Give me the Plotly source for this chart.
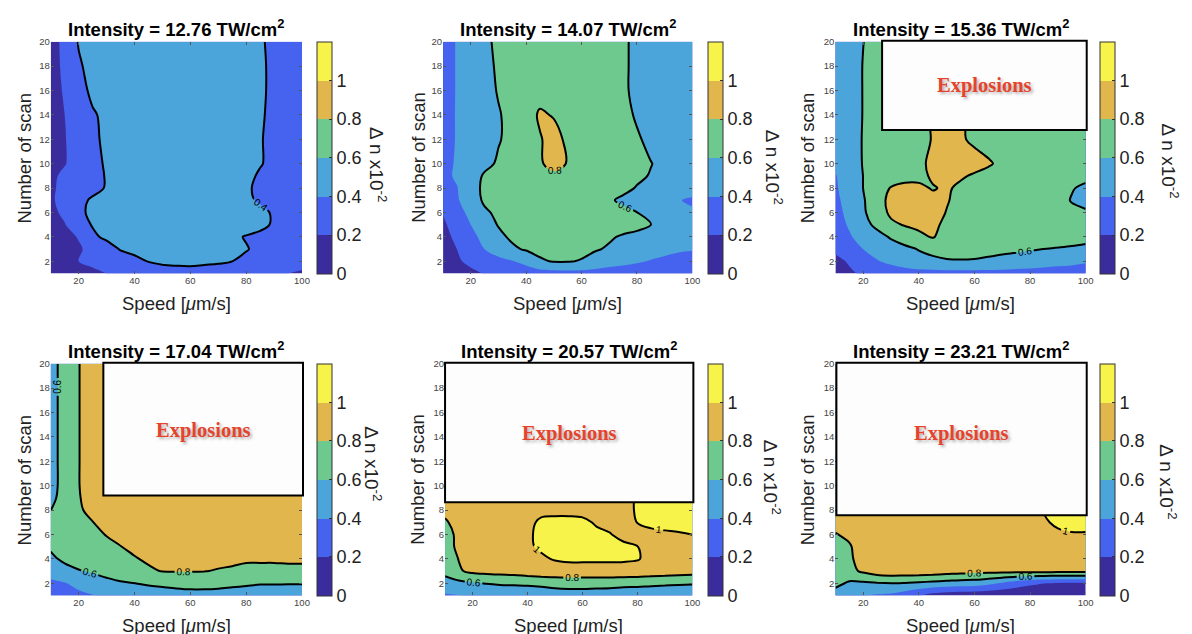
import plotly.graph_objects as go

# ---------------- data ----------------
speed = [10, 15, 20, 25, 30, 35, 40, 45, 50, 55, 60, 65, 70, 75, 80, 85, 90, 95, 100]
scans = [1, 2, 3, 4, 5, 6, 7, 8, 9, 10, 12, 14, 16, 18, 20]

intensities = ["12.76", "14.07", "15.36", "17.04", "20.57", "23.21"]

dn_1276 = [
    [0.05, 0.08, 0.12, 0.16, 0.20, 0.23, 0.26, 0.29, 0.32, 0.33, 0.34, 0.33, 0.32, 0.30, 0.27, 0.24, 0.22, 0.20, 0.18],
    [0.07, 0.12, 0.20, 0.24, 0.28, 0.32, 0.36, 0.405, 0.43, 0.44, 0.44, 0.43, 0.42, 0.40, 0.36, 0.32, 0.29, 0.27, 0.25],
    [0.08, 0.13, 0.18, 0.25, 0.33, 0.41, 0.44, 0.46, 0.46, 0.46, 0.46, 0.46, 0.46, 0.44, 0.41, 0.36, 0.33, 0.30, 0.28],
    [0.10, 0.15, 0.21, 0.37, 0.43, 0.46, 0.47, 0.47, 0.47, 0.47, 0.47, 0.47, 0.47, 0.43, 0.39, 0.36, 0.34, 0.32, 0.31],
    [0.12, 0.19, 0.33, 0.41, 0.45, 0.46, 0.47, 0.47, 0.47, 0.47, 0.47, 0.47, 0.47, 0.47, 0.47, 0.44, 0.38, 0.34, 0.32],
    [0.15, 0.24, 0.37, 0.43, 0.46, 0.47, 0.47, 0.47, 0.47, 0.47, 0.47, 0.47, 0.47, 0.47, 0.47, 0.44, 0.38, 0.34, 0.32],
    [0.17, 0.27, 0.36, 0.42, 0.45, 0.47, 0.47, 0.47, 0.47, 0.47, 0.47, 0.47, 0.47, 0.47, 0.43, 0.38, 0.35, 0.33, 0.32],
    [0.17, 0.25, 0.31, 0.36, 0.41, 0.45, 0.47, 0.47, 0.47, 0.47, 0.47, 0.47, 0.47, 0.47, 0.42, 0.37, 0.35, 0.33, 0.32],
    [0.16, 0.24, 0.30, 0.35, 0.41, 0.45, 0.47, 0.47, 0.47, 0.47, 0.47, 0.47, 0.47, 0.47, 0.44, 0.38, 0.35, 0.33, 0.32],
    [0.10, 0.19, 0.28, 0.35, 0.42, 0.45, 0.47, 0.47, 0.47, 0.47, 0.47, 0.47, 0.47, 0.47, 0.47, 0.41, 0.36, 0.33, 0.32],
    [0.10, 0.19, 0.29, 0.37, 0.43, 0.46, 0.47, 0.47, 0.47, 0.47, 0.47, 0.47, 0.47, 0.47, 0.47, 0.41, 0.36, 0.33, 0.32],
    [0.11, 0.20, 0.31, 0.38, 0.44, 0.46, 0.47, 0.47, 0.47, 0.47, 0.47, 0.47, 0.47, 0.47, 0.47, 0.42, 0.36, 0.33, 0.32],
    [0.12, 0.22, 0.33, 0.44, 0.46, 0.47, 0.47, 0.47, 0.47, 0.47, 0.47, 0.47, 0.47, 0.47, 0.47, 0.43, 0.36, 0.33, 0.32],
    [0.12, 0.24, 0.38, 0.45, 0.47, 0.47, 0.47, 0.47, 0.47, 0.47, 0.47, 0.47, 0.47, 0.47, 0.47, 0.43, 0.36, 0.33, 0.32],
    [0.12, 0.25, 0.41, 0.45, 0.47, 0.47, 0.47, 0.47, 0.47, 0.47, 0.47, 0.47, 0.47, 0.47, 0.47, 0.42, 0.36, 0.33, 0.32],
]

dn_1407 = [
    [0.06, 0.10, 0.15, 0.21, 0.25, 0.28, 0.30, 0.31, 0.32, 0.33, 0.33, 0.32, 0.31, 0.30, 0.29, 0.28, 0.28, 0.27, 0.27],
    [0.10, 0.17, 0.25, 0.30, 0.35, 0.39, 0.45, 0.58, 0.61, 0.61, 0.59, 0.53, 0.48, 0.45, 0.42, 0.39, 0.37, 0.35, 0.34],
    [0.12, 0.20, 0.30, 0.40, 0.48, 0.57, 0.62, 0.64, 0.65, 0.65, 0.64, 0.615, 0.58, 0.54, 0.50, 0.47, 0.44, 0.42, 0.41],
    [0.14, 0.24, 0.35, 0.45, 0.56, 0.63, 0.66, 0.67, 0.67, 0.67, 0.67, 0.65, 0.62, 0.58, 0.55, 0.52, 0.49, 0.47, 0.45],
    [0.17, 0.28, 0.40, 0.52, 0.61, 0.66, 0.69, 0.69, 0.69, 0.69, 0.69, 0.69, 0.69, 0.67, 0.65, 0.605, 0.53, 0.48, 0.45],
    [0.21, 0.33, 0.45, 0.57, 0.64, 0.69, 0.69, 0.69, 0.69, 0.69, 0.69, 0.68, 0.66, 0.64, 0.602, 0.55, 0.50, 0.45, 0.43],
    [0.33, 0.38, 0.50, 0.63, 0.66, 0.69, 0.69, 0.69, 0.69, 0.69, 0.69, 0.66, 0.62, 0.57, 0.52, 0.48, 0.45, 0.41, 0.37],
    [0.35, 0.39, 0.54, 0.63, 0.66, 0.68, 0.70, 0.70, 0.70, 0.70, 0.70, 0.69, 0.67, 0.64, 0.59, 0.55, 0.52, 0.50, 0.48],
    [0.34, 0.43, 0.52, 0.62, 0.65, 0.67, 0.70, 0.73, 0.76, 0.74, 0.72, 0.70, 0.69, 0.67, 0.63, 0.59, 0.56, 0.54, 0.53],
    [0.34, 0.42, 0.49, 0.56, 0.62, 0.66, 0.72, 0.78, 0.86, 0.79, 0.74, 0.71, 0.70, 0.68, 0.65, 0.605, 0.56, 0.54, 0.53],
    [0.34, 0.41, 0.47, 0.53, 0.59, 0.64, 0.72, 0.79, 0.85, 0.77, 0.73, 0.70, 0.69, 0.67, 0.62, 0.56, 0.53, 0.52, 0.51],
    [0.34, 0.41, 0.48, 0.53, 0.59, 0.64, 0.73, 0.82, 0.79, 0.74, 0.71, 0.69, 0.68, 0.65, 0.58, 0.54, 0.52, 0.50, 0.50],
    [0.33, 0.41, 0.49, 0.55, 0.61, 0.66, 0.69, 0.74, 0.70, 0.70, 0.70, 0.70, 0.70, 0.62, 0.57, 0.54, 0.52, 0.50, 0.50],
    [0.33, 0.41, 0.49, 0.56, 0.62, 0.66, 0.68, 0.68, 0.68, 0.68, 0.68, 0.68, 0.68, 0.62, 0.57, 0.54, 0.52, 0.50, 0.50],
    [0.33, 0.41, 0.50, 0.57, 0.63, 0.66, 0.67, 0.67, 0.67, 0.67, 0.67, 0.67, 0.67, 0.62, 0.57, 0.54, 0.52, 0.50, 0.50],
]

dn_1536 = [
    [0.10, 0.17, 0.23, 0.27, 0.30, 0.32, 0.33, 0.33, 0.33, 0.33, 0.33, 0.33, 0.33, 0.32, 0.32, 0.31, 0.30, 0.30, 0.30],
    [0.15, 0.22, 0.32, 0.39, 0.44, 0.49, 0.53, 0.56, 0.585, 0.59, 0.585, 0.57, 0.55, 0.53, 0.51, 0.49, 0.47, 0.45, 0.42],
    [0.24, 0.30, 0.40, 0.46, 0.51, 0.55, 0.61, 0.65, 0.66, 0.66, 0.66, 0.65, 0.64, 0.63, 0.615, 0.598, 0.59, 0.58, 0.57],
    [0.30, 0.38, 0.47, 0.53, 0.62, 0.71, 0.77, 0.81, 0.74, 0.71, 0.70, 0.69, 0.69, 0.69, 0.69, 0.68, 0.67, 0.66, 0.64],
    [0.32, 0.42, 0.53, 0.65, 0.77, 0.81, 0.83, 0.83, 0.77, 0.74, 0.72, 0.70, 0.70, 0.70, 0.70, 0.70, 0.69, 0.67, 0.66],
    [0.34, 0.45, 0.57, 0.72, 0.83, 0.86, 0.86, 0.85, 0.795, 0.76, 0.73, 0.71, 0.70, 0.70, 0.70, 0.70, 0.68, 0.64, 0.62],
    [0.36, 0.47, 0.58, 0.74, 0.84, 0.86, 0.86, 0.84, 0.81, 0.76, 0.73, 0.71, 0.70, 0.69, 0.69, 0.69, 0.66, 0.59, 0.55],
    [0.38, 0.48, 0.602, 0.72, 0.81, 0.84, 0.83, 0.79, 0.82, 0.77, 0.74, 0.72, 0.70, 0.69, 0.69, 0.69, 0.67, 0.61, 0.57],
    [0.39, 0.49, 0.602, 0.66, 0.72, 0.75, 0.76, 0.82, 0.84, 0.82, 0.78, 0.74, 0.72, 0.70, 0.69, 0.69, 0.69, 0.66, 0.64],
    [0.43, 0.50, 0.61, 0.66, 0.69, 0.71, 0.76, 0.84, 0.86, 0.87, 0.86, 0.82, 0.76, 0.72, 0.70, 0.69, 0.69, 0.69, 0.68],
    [0.45, 0.52, 0.61, 0.66, 0.69, 0.70, 0.74, 0.81, 0.85, 0.82, 0.77, 0.73, 0.71, 0.70, 0.70, 0.70, 0.70, 0.70, 0.70],
    [0.46, 0.53, 0.605, 0.66, 0.69, 0.70, 0.74, 0.82, 0.85, 0.82, 0.76, 0.72, 0.70, 0.70, 0.70, 0.70, 0.70, 0.70, 0.70],
    [0.46, 0.53, 0.605, 0.66, 0.69, 0.70, 0.70, 0.70, 0.70, 0.70, 0.70, 0.70, 0.70, 0.70, 0.70, 0.70, 0.70, 0.70, 0.70],
    [0.46, 0.53, 0.605, 0.66, 0.69, 0.70, 0.70, 0.70, 0.70, 0.70, 0.70, 0.70, 0.70, 0.70, 0.70, 0.70, 0.70, 0.70, 0.70],
    [0.47, 0.53, 0.598, 0.65, 0.68, 0.70, 0.70, 0.70, 0.70, 0.70, 0.70, 0.70, 0.70, 0.70, 0.70, 0.70, 0.70, 0.70, 0.70],
]

dn_1704 = [
    [0.30, 0.33, 0.36, 0.39, 0.42, 0.45, 0.48, 0.51, 0.53, 0.545, 0.555, 0.555, 0.55, 0.54, 0.53, 0.52, 0.51, 0.50, 0.50],
    [0.35, 0.39, 0.45, 0.52, 0.55, 0.58, 0.598, 0.62, 0.63, 0.64, 0.645, 0.645, 0.64, 0.63, 0.62, 0.61, 0.61, 0.61, 0.61],
    [0.50, 0.55, 0.59, 0.62, 0.66, 0.70, 0.74, 0.78, 0.805, 0.81, 0.81, 0.805, 0.79, 0.78, 0.76, 0.76, 0.76, 0.77, 0.77],
    [0.57, 0.63, 0.67, 0.70, 0.73, 0.76, 0.79, 0.82, 0.84, 0.85, 0.85, 0.85, 0.84, 0.83, 0.82, 0.82, 0.82, 0.82, 0.82],
    [0.62, 0.67, 0.71, 0.74, 0.77, 0.797, 0.83, 0.85, 0.87, 0.87, 0.87, 0.87, 0.87, 0.87, 0.87, 0.87, 0.87, 0.87, 0.87],
    [0.66, 0.69, 0.73, 0.77, 0.805, 0.84, 0.86, 0.88, 0.88, 0.88, 0.88, 0.88, 0.88, 0.88, 0.88, 0.88, 0.88, 0.88, 0.88],
    [0.64, 0.70, 0.75, 0.797, 0.84, 0.87, 0.89, 0.89, 0.89, 0.89, 0.89, 0.89, 0.89, 0.89, 0.89, 0.89, 0.89, 0.89, 0.89],
    [0.598, 0.70, 0.78, 0.84, 0.88, 0.90, 0.90, 0.90, 0.90, 0.90, 0.90, 0.90, 0.90, 0.90, 0.90, 0.90, 0.90, 0.90, 0.90],
    [0.54, 0.69, 0.79, 0.86, 0.90, 0.90, 0.90, 0.90, 0.90, 0.90, 0.90, 0.90, 0.90, 0.90, 0.90, 0.90, 0.90, 0.90, 0.90],
    [0.52, 0.68, 0.795, 0.87, 0.90, 0.90, 0.90, 0.90, 0.90, 0.90, 0.90, 0.90, 0.90, 0.90, 0.90, 0.90, 0.90, 0.90, 0.90],
    [0.52, 0.68, 0.795, 0.87, 0.90, 0.90, 0.90, 0.90, 0.90, 0.90, 0.90, 0.90, 0.90, 0.90, 0.90, 0.90, 0.90, 0.90, 0.90],
    [0.52, 0.68, 0.795, 0.87, 0.90, 0.90, 0.90, 0.90, 0.90, 0.90, 0.90, 0.90, 0.90, 0.90, 0.90, 0.90, 0.90, 0.90, 0.90],
    [0.52, 0.68, 0.795, 0.87, 0.90, 0.90, 0.90, 0.90, 0.90, 0.90, 0.90, 0.90, 0.90, 0.90, 0.90, 0.90, 0.90, 0.90, 0.90],
    [0.52, 0.68, 0.795, 0.87, 0.90, 0.90, 0.90, 0.90, 0.90, 0.90, 0.90, 0.90, 0.90, 0.90, 0.90, 0.90, 0.90, 0.90, 0.90],
    [0.52, 0.68, 0.795, 0.87, 0.90, 0.90, 0.90, 0.90, 0.90, 0.90, 0.90, 0.90, 0.90, 0.90, 0.90, 0.90, 0.90, 0.90, 0.90],
]

dn_2057 = [
    [0.38, 0.395, 0.41, 0.41, 0.41, 0.41, 0.41, 0.45, 0.50, 0.52, 0.52, 0.51, 0.50, 0.48, 0.46, 0.44, 0.43, 0.42, 0.42],
    [0.52, 0.55, 0.58, 0.61, 0.63, 0.64, 0.65, 0.66, 0.67, 0.67, 0.67, 0.67, 0.67, 0.66, 0.66, 0.65, 0.64, 0.63, 0.62],
    [0.66, 0.78, 0.84, 0.86, 0.87, 0.88, 0.90, 0.92, 0.94, 0.95, 0.95, 0.95, 0.95, 0.94, 0.93, 0.91, 0.90, 0.89, 0.88],
    [0.70, 0.805, 0.86, 0.88, 0.90, 0.92, 0.95, 0.98, 1.01, 1.02, 1.02, 1.02, 1.02, 1.02, 1.01, 0.96, 0.92, 0.91, 0.90],
    [0.74, 0.83, 0.87, 0.90, 0.92, 0.95, 0.98, 1.02, 1.04, 1.05, 1.05, 1.04, 1.03, 1.02, 1.002, 0.96, 0.93, 0.93, 0.93],
    [0.75, 0.83, 0.88, 0.91, 0.93, 0.95, 0.98, 1.03, 1.05, 1.05, 1.04, 1.02, 1.005, 0.97, 0.96, 0.97, 0.98, 0.99, 1.002],
    [0.78, 0.86, 0.90, 0.92, 0.93, 0.95, 0.97, 1.02, 1.03, 1.03, 1.02, 0.99, 0.97, 0.97, 1.002, 1.03, 1.04, 1.04, 1.03],
    [0.84, 0.90, 0.92, 0.93, 0.94, 0.95, 0.96, 0.97, 0.97, 0.97, 0.97, 0.97, 0.97, 0.97, 1.01, 1.05, 1.06, 1.06, 1.06],
    [0.84, 0.90, 0.92, 0.93, 0.94, 0.95, 0.96, 0.97, 0.97, 0.97, 0.97, 0.97, 0.97, 0.97, 1.01, 1.05, 1.06, 1.06, 1.06],
    [0.84, 0.90, 0.92, 0.93, 0.94, 0.95, 0.96, 0.97, 0.97, 0.97, 0.97, 0.97, 0.97, 0.97, 1.01, 1.05, 1.06, 1.06, 1.06],
    [0.84, 0.90, 0.92, 0.93, 0.94, 0.95, 0.96, 0.97, 0.97, 0.97, 0.97, 0.97, 0.97, 0.97, 1.01, 1.05, 1.06, 1.06, 1.06],
    [0.84, 0.90, 0.92, 0.93, 0.94, 0.95, 0.96, 0.97, 0.97, 0.97, 0.97, 0.97, 0.97, 0.97, 1.01, 1.05, 1.06, 1.06, 1.06],
    [0.84, 0.90, 0.92, 0.93, 0.94, 0.95, 0.96, 0.97, 0.97, 0.97, 0.97, 0.97, 0.97, 0.97, 1.01, 1.05, 1.06, 1.06, 1.06],
    [0.84, 0.90, 0.92, 0.93, 0.94, 0.95, 0.96, 0.97, 0.97, 0.97, 0.97, 0.97, 0.97, 0.97, 1.01, 1.05, 1.06, 1.06, 1.06],
    [0.84, 0.90, 0.92, 0.93, 0.94, 0.95, 0.96, 0.97, 0.97, 0.97, 0.97, 0.97, 0.97, 0.97, 1.01, 1.05, 1.06, 1.06, 1.06],
]

dn_2321 = [
    [0.50, 0.42, 0.405, 0.38, 0.36, 0.30, 0.21, 0.12, 0.08, 0.06, 0.05, 0.04, 0.03, 0.03, 0.03, 0.03, 0.03, 0.03, 0.03],
    [0.66, 0.57, 0.57, 0.59, 0.602, 0.59, 0.57, 0.55, 0.53, 0.51, 0.50, 0.45, 0.38, 0.30, 0.24, 0.205, 0.18, 0.17, 0.17],
    [0.68, 0.75, 0.83, 0.90, 0.92, 0.92, 0.92, 0.91, 0.89, 0.87, 0.86, 0.86, 0.86, 0.86, 0.86, 0.86, 0.86, 0.86, 0.86],
    [0.70, 0.78, 0.85, 0.87, 0.87, 0.87, 0.87, 0.87, 0.87, 0.87, 0.87, 0.87, 0.87, 0.87, 0.87, 0.87, 0.87, 0.87, 0.87],
    [0.72, 0.79, 0.85, 0.87, 0.88, 0.88, 0.88, 0.88, 0.88, 0.88, 0.88, 0.88, 0.88, 0.88, 0.88, 0.89, 0.90, 0.91, 0.91],
    [0.795, 0.82, 0.86, 0.88, 0.89, 0.89, 0.89, 0.89, 0.89, 0.89, 0.89, 0.89, 0.89, 0.89, 0.90, 0.93, 0.97, 0.99, 0.99],
    [0.83, 0.86, 0.88, 0.89, 0.90, 0.90, 0.90, 0.90, 0.90, 0.90, 0.90, 0.90, 0.90, 0.90, 0.92, 0.98, 1.03, 1.04, 1.04],
    [0.85, 0.87, 0.89, 0.90, 0.90, 0.90, 0.90, 0.90, 0.90, 0.90, 0.90, 0.90, 0.90, 0.90, 0.93, 1.01, 1.05, 1.05, 1.05],
    [0.85, 0.87, 0.89, 0.90, 0.90, 0.90, 0.90, 0.90, 0.90, 0.90, 0.90, 0.90, 0.90, 0.90, 0.93, 1.01, 1.05, 1.05, 1.05],
    [0.85, 0.87, 0.89, 0.90, 0.90, 0.90, 0.90, 0.90, 0.90, 0.90, 0.90, 0.90, 0.90, 0.90, 0.93, 1.01, 1.05, 1.05, 1.05],
    [0.85, 0.87, 0.89, 0.90, 0.90, 0.90, 0.90, 0.90, 0.90, 0.90, 0.90, 0.90, 0.90, 0.90, 0.93, 1.01, 1.05, 1.05, 1.05],
    [0.85, 0.87, 0.89, 0.90, 0.90, 0.90, 0.90, 0.90, 0.90, 0.90, 0.90, 0.90, 0.90, 0.90, 0.93, 1.01, 1.05, 1.05, 1.05],
    [0.85, 0.87, 0.89, 0.90, 0.90, 0.90, 0.90, 0.90, 0.90, 0.90, 0.90, 0.90, 0.90, 0.90, 0.93, 1.01, 1.05, 1.05, 1.05],
    [0.85, 0.87, 0.89, 0.90, 0.90, 0.90, 0.90, 0.90, 0.90, 0.90, 0.90, 0.90, 0.90, 0.90, 0.93, 1.01, 1.05, 1.05, 1.05],
    [0.85, 0.87, 0.89, 0.90, 0.90, 0.90, 0.90, 0.90, 0.90, 0.90, 0.90, 0.90, 0.90, 0.90, 0.93, 1.01, 1.05, 1.05, 1.05],
]

line_levels = [[0.4], [0.6, 0.8], [0.6, 0.8], [0.6, 0.8], [0.6, 0.8, 1.0], [0.6, 0.8, 1.0]]
explosion_panels = [2, 3, 4, 5]

cbar_range = [0, 1.2]
cbar_ticks = [0, 0.2, 0.4, 0.6, 0.8, 1]
cbar_text = ["0", "0.2", "0.4", "0.6", "0.8", "1"]
x_ticks = [20, 40, 60, 80, 100]
y_ticks = [2, 4, 6, 8, 10, 12, 14, 16, 18, 20]

# ---------------- styling / layout ----------------
W, H = 1192, 634
band_colors = ["#3B2C9E", "#4563EF", "#4BA5DA", "#6DC98D", "#E1B64C", "#F8F34B"]

# colour scale used by the contour fills (band centres sampled at 0, .2, ... 1)
CS_fill = []
edges = [0.0, 0.1, 0.3, 0.5, 0.7, 0.9, 1.0]
for i, c in enumerate(band_colors):
    CS_fill.append([edges[i], c])
    CS_fill.append([edges[i + 1], c])
# stepped colour scale for the colour bar spanning 0 .. 1.2
CS_bar = []
for i, c in enumerate(band_colors):
    CS_bar.append([i / 6, c])
    CS_bar.append([(i + 1) / 6, c])

FONT = "Liberation Sans, Arial, sans-serif"

# plot-area pixel boxes: (left, right, top, bottom)
boxes = [
    (43, 296, 28, 262), (438, 689, 28, 262), (833, 1085, 28, 262),
    (43, 296, 353, 587), (440, 689, 353, 587), (833, 1085, 353, 587),
]
cbar_left = [311, 705, 1099, 311, 705, 1099]
dn_title_pos = [(373, 152), (772, 155), (1170, 148), (368, 454), (770, 468), (1168, 472)]
ytitle_x = [17, 413, 805, 17, 412, 805]
expl_boxes = {2: (880, 1086, 27, 117), 3: (96, 297, 352, 486),
              4: (440, 690, 352, 493), 5: (834, 1086, 352, 506)}
expl_text_y = {2: 72, 3: 420, 4: 424, 5: 424}

def fx(px):
    return px / W

def fy(py):
    return 1 - py / H

data_sets = [dn_1276, dn_1407, dn_1536, dn_1704, dn_2057, dn_2321]

fig = go.Figure()
layout = dict(width=W, height=H, margin=dict(l=0, r=0, t=0, b=0), autosize=False,
              paper_bgcolor="white", plot_bgcolor="white", showlegend=False,
              hovermode=False, font=dict(family=FONT))
annotations = []
shapes = []

for i, z in enumerate(data_sets):
    n = i + 1
    xa = "x" if n == 1 else f"x{n}"
    ya = "y" if n == 1 else f"y{n}"
    l, r, t, b = boxes[i]
    # filled contour
    fig.add_trace(go.Contour(
        x=speed, y=scans, z=z, xaxis=xa, yaxis=ya,
        colorscale=CS_fill, autocontour=False, showscale=False,
        contours=dict(start=0.2, end=1.0, size=0.2, coloring="fill", showlines=False),
        line=dict(width=0, smoothing=1),
        hoverinfo="skip",
    ))
    # contour lines with labels
    for lv in line_levels[i]:
        fig.add_trace(go.Contour(
            x=speed, y=scans, z=z, xaxis=xa, yaxis=ya, showscale=False,
            autocontour=False,
            contours=dict(start=lv, end=lv, size=0.2, coloring="none", showlabels=True,
                          labelfont=dict(size=10, color="black", family=FONT),
                          labelformat=".1~f"),
            line=dict(color="black", width=2, smoothing=1),
            hoverinfo="skip",
        ))
    # colour bar (0 .. 1.2, six discrete bands)
    fig.add_trace(go.Scatter(
        x=[55], y=[10], xaxis=xa, yaxis=ya, mode="markers", hoverinfo="skip",
        marker=dict(size=1, opacity=0, color=[0.6], cmin=cbar_range[0], cmax=cbar_range[1],
                    colorscale=CS_bar, showscale=True,
                    colorbar=dict(
                        x=fx(cbar_left[i]), xanchor="left", xpad=0, ypad=0,
                        y=fy(t), yanchor="top", len=(b - t) / H, lenmode="fraction",
                        thickness=15, thicknessmode="pixels",
                        tickvals=cbar_ticks, ticktext=cbar_text, ticks="inside", ticklen=3,
                        tickcolor="#333", tickfont=dict(size=18, color="#222", family=FONT),
                        outlinewidth=1, outlinecolor="#333",
                    )),
    ))
    xkey = "xaxis" if n == 1 else f"xaxis{n}"
    ykey = "yaxis" if n == 1 else f"yaxis{n}"
    layout[xkey] = dict(domain=[fx(l), fx(r)], anchor=ya, range=[10, 100],
                        tickvals=x_ticks, ticks="inside", ticklen=3, tickcolor="#555",
                        tickfont=dict(size=9.5, color="#444", family=FONT),
                        showgrid=False, zeroline=False, showline=False, mirror="ticks")
    layout[ykey] = dict(domain=[fy(b), fy(t)], anchor=xa, range=[1, 20],
                        tickvals=y_ticks, ticks="inside", ticklen=3, tickcolor="#555",
                        tickfont=dict(size=9.5, color="#444", family=FONT),
                        showgrid=False, zeroline=False, showline=False, mirror="ticks")
    # title
    annotations.append(dict(
        text=f"<b>Intensity = {intensities[i]} TW/cm<sup>2</sup></b>",
        x=fx((l + r) / 2), y=fy(t - 14), xref="paper", yref="paper",
        xanchor="center", yanchor="middle", showarrow=False,
        font=dict(size=18.5, color="black", family=FONT)))
    # axis titles
    annotations.append(dict(
        text="Speed [<i>μ</i>m/s]", x=fx((l + r) / 2), y=fy(b + 30),
        xref="paper", yref="paper", xanchor="center", yanchor="middle",
        showarrow=False, font=dict(size=18.5, color="#222", family=FONT)))
    annotations.append(dict(
        text="Number of scan", x=fx(ytitle_x[i]), y=fy((t + b) / 2),
        xref="paper", yref="paper", xanchor="center", yanchor="middle",
        textangle=-90, showarrow=False, font=dict(size=18.5, color="#222", family=FONT)))
    # colorbar title
    px_, py_ = dn_title_pos[i]
    annotations.append(dict(
        text="Δ n x10<sup>-2</sup>", x=fx(px_), y=fy(py_),
        xref="paper", yref="paper", xanchor="center", yanchor="middle",
        textangle=90, showarrow=False, font=dict(size=19, color="#222", family=FONT)))
    # explosion box
    if i in explosion_panels:
        bl, br, bt, bb = expl_boxes[i]
        shapes.append(dict(type="rect", xref="paper", yref="paper",
                           x0=fx(bl), x1=fx(br), y0=fy(bb), y1=fy(bt),
                           fillcolor="#FDFDFD", line=dict(color="black", width=2),
                           layer="above"))
        annotations.append(dict(
            text="<b>Explosions</b>", x=fx((bl + br) / 2), y=fy(expl_text_y[i]),
            xref="paper", yref="paper", xanchor="center", yanchor="middle",
            showarrow=False,
            font=dict(size=20.5, color="#E5432B", family="Liberation Serif, Times New Roman, serif",
                      shadow="2px 2px 3px rgba(0,0,0,0.3)")))

layout["annotations"] = annotations
layout["shapes"] = shapes
fig.update_layout(**layout)
fig.write_html("out.html")
